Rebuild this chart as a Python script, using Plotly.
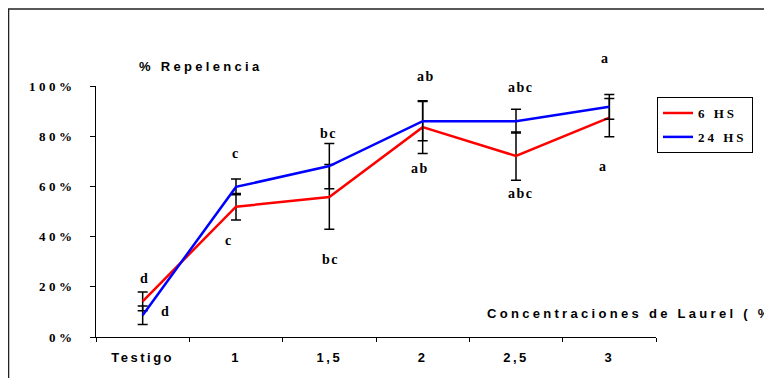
import plotly.graph_objects as go

categories = ["Testigo", "1", "1,5", "2", "2,5", "3"]
hs6 = [14.2, 51.9, 55.8, 83.6, 72.1, 87.4]
hs6_err = [3.7, 5.3, 12.9, 10.5, 9.6, 7.6]
hs24 = [8.7, 59.8, 68.1, 86.0, 86.0, 91.7]
hs24_err = [3.7, 3.1, 9.0, 7.8, 4.7, 4.9]
letters_top = ["d", "c", "bc", "ab", "abc", "a"]
letters_top_y = [23.5, 73.2, 80.9, 103.7, 99.5, 110.8]
letters_bottom = ["d", "c", "bc", "ab", "abc", "a"]
letters_bottom_y = [10.0, 38.6, 30.9, 67.2, 57.2, 68.1]
y_ticks = [0, 20, 40, 60, 80, 100]
y_tick_labels = ["0%", "20%", "40%", "60%", "80%", "100%"]
series_names = ["6 HS", "24 HS"]
y_title = "% Repelencia"
x_title = "Concentraciones de Laurel ( %"

SERIF = "Liberation Serif"
SANS = "Liberation Sans"
Y_MAX = 100


def spaced(t, ls):
    return f"<span style='letter-spacing:{ls}px'>{t}</span>"


x_idx = list(range(len(categories)))

fig = go.Figure()
for name, vals, errs, col in [
    (series_names[0], hs6, hs6_err, "#FF0000"),
    (series_names[1], hs24, hs24_err, "#0000FF"),
]:
    fig.add_trace(go.Scatter(
        x=x_idx, y=vals, mode="lines", name=spaced(name, 3),
        legendgroup=name,
        line=dict(color=col, width=2.5),
        error_y=dict(type="data", array=errs, visible=True,
                     color="black", thickness=1.5, width=5),
        cliponaxis=False,
    ))

ann = []
xs_top = [2, 0, -1, 3, 5, -4]
xs_bot = [23, -7, 1, -3, 5, -6]
letter_font = dict(family=SERIF, size=14, color="black", weight="bold")
for i in x_idx:
    # y axis spans the plot area exactly, so value / Y_MAX is its paper position
    ann.append(dict(x=i, y=letters_top_y[i] / Y_MAX, xref="x", yref="paper",
                    xanchor="center", yanchor="middle",
                    text=spaced(letters_top[i], 1.5), showarrow=False,
                    xshift=xs_top[i], font=letter_font))
    ann.append(dict(x=i, y=letters_bottom_y[i] / Y_MAX, xref="x", yref="paper",
                    xanchor="center", yanchor="middle",
                    text=spaced(letters_bottom[i], 1.5), showarrow=False,
                    xshift=xs_bot[i], font=letter_font))

ann.append(dict(x=0.073, y=1.0757, xref="paper", yref="paper",
                xanchor="left", yanchor="middle", showarrow=False,
                text=spaced(y_title, 3.3),
                font=dict(family=SANS, size=13, color="black", weight="bold")))
ann.append(dict(x=0.695, y=0.0956, xref="paper", yref="paper",
                xanchor="left", yanchor="middle", showarrow=False,
                text=spaced(x_title, 3.3),
                font=dict(family=SANS, size=13, color="black", weight="bold")))

fig.update_layout(
    width=772, height=378,
    margin=dict(l=88, r=124, t=78, b=49),
    paper_bgcolor="white", plot_bgcolor="white",
    showlegend=True,
    legend=dict(x=1.0018, y=0.956, xanchor="left", yanchor="top",
                bordercolor="black", borderwidth=1, bgcolor="white",
                tracegroupgap=4,
                font=dict(family=SERIF, size=13, color="black", weight="bold")),
    annotations=ann,
    shapes=[dict(type="rect", xref="paper", yref="paper",
                 x0=-0.1562, x1=1.3, y0=-0.3, y1=1.3068,
                 line=dict(color="#222222", width=1.5), layer="below")],
)

fig.update_xaxes(
    range=[-0.5, len(categories) - 0.5],
    tickmode="array", tickvals=x_idx,
    ticktext=[spaced(c, 2.5) for c in categories],
    ticks="", showgrid=False, zeroline=False,
    showline=True, linecolor="black", linewidth=1,
    tickfont=dict(family=SANS, size=13, color="black", weight="bold"),
    ticklabelstandoff=8,
    minor=dict(tickmode="array",
               tickvals=[i - 0.5 for i in range(len(categories) + 1)],
               ticks="outside", ticklen=4, tickcolor="black", tickwidth=1,
               showgrid=False),
)
fig.update_yaxes(
    range=[0, Y_MAX],
    tickmode="array", tickvals=y_ticks,
    ticktext=[spaced(t, 3.5) for t in y_tick_labels],
    ticks="outside", ticklen=5, tickcolor="black", tickwidth=1,
    showgrid=False, zeroline=False,
    showline=True, linecolor="black", linewidth=1,
    tickfont=dict(family=SERIF, size=13, color="black", weight="bold"),
    ticklabelstandoff=12,
)

fig.write_html("out.html")
